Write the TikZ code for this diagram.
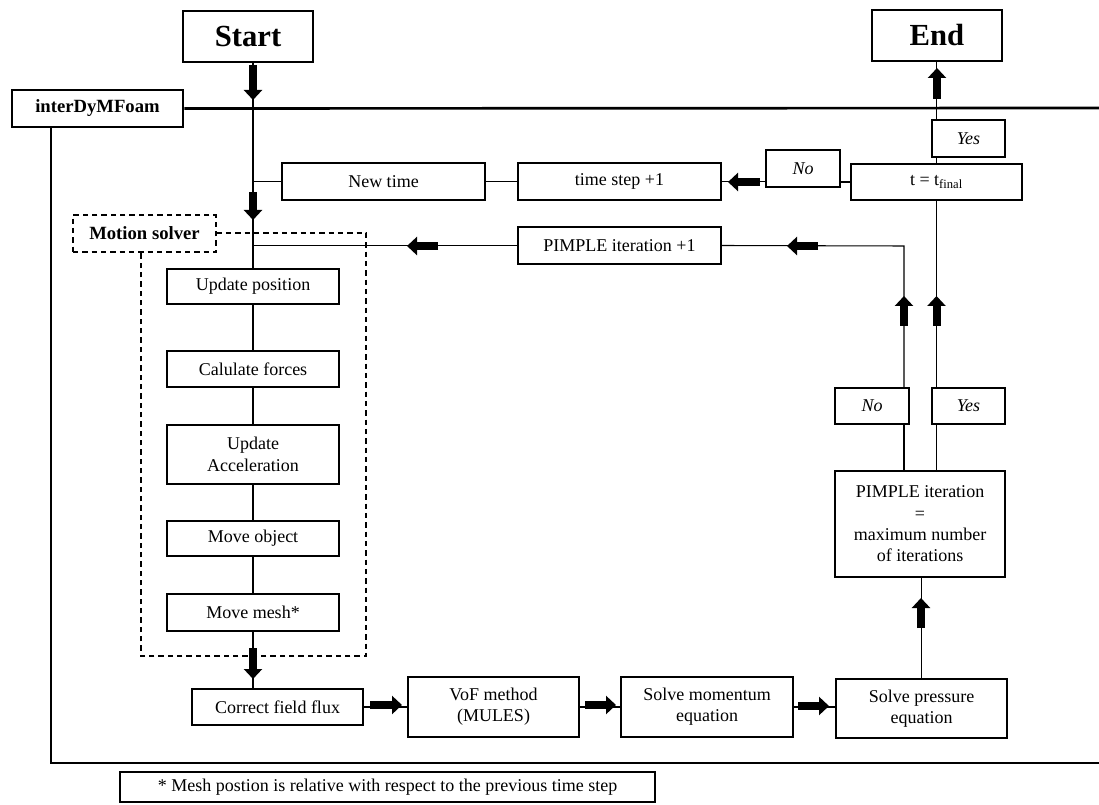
\documentclass[tikz,border=0pt]{standalone}
\usepackage{fontspec}
\setmainfont{Liberation Serif}
\usetikzlibrary{arrows.meta,calc}
\begin{document}
\begin{tikzpicture}[x=0.75pt,y=-0.75pt,
  bx/.style 2 args={draw, line width=0.8pt, fill=white, align=center, inner sep=1pt,
    minimum width={#1*0.75pt}, minimum height={#2*0.75pt},
    font=\fontsize{13.5}{16}\selectfont},
  bigbx/.style 2 args={bx={#1}{#2}, font=\fontsize{23}{26}\selectfont\bfseries},
  conn/.style={line width=0.8pt},
  frame/.style={line width=2pt},
  blk/.style={line width=6pt, -{Triangle[length=7.5pt,width=13.5pt]}},
  dsh/.style={line width=0.8pt, dash pattern=on 4pt off 3pt}
]
\useasboundingbox (0,0) rectangle (1099,805);

% nodes
\node[bigbx={130}{51}] (start) at (248,36.5) {Start};
\node[bigbx={130}{51}] (end) at (937,35.5) {End};
\node[bx={171}{37}, line width=2pt, font=\fontsize{14}{16}\selectfont\bfseries] (idm) at (97.5,108.5) {interDyMFoam};
\node[bx={203}{37}] (newtime) at (383.5,181.5) {New time};
\node[bx={203}{37}] (tstep) at (619.5,181.5) {time step +1};
\node[bx={74}{37}, font=\fontsize{13.5}{16}\selectfont\itshape] (no1) at (803,168.5) {No};
\node[bx={171}{36}] (tfin) at (936.5,182) {t = t\textsubscript{final}};
\node[bx={203}{37}] (pimple1) at (619.5,245.5) {PIMPLE iteration +1};
\node[bx={143}{37}, dsh, font=\fontsize{14}{16}\selectfont\bfseries] (motion) at (144.5,233.5) {Motion solver};
\node[bx={172}{35}] (updpos) at (253,286.5) {Update position};
\node[bx={172}{36}] (calc) at (253,369) {Calulate forces};
\node[bx={172}{59}] (updacc) at (253,454.5) {Update\\Acceleration};
\node[bx={172}{35}] (moveobj) at (253,538.5) {Move object};
\node[bx={172}{37}] (movemesh) at (253,612.5) {Move mesh*};
\node[bx={171}{36}] (cff) at (277.5,707) {Correct field flux};
\node[bx={171}{60}] (vof) at (493.5,707) {VoF method\\(MULES)};
\node[bx={172}{60}] (mom) at (707,707) {Solve momentum\\equation};
\node[bx={171}{59}] (pres) at (921.5,708.5) {Solve pressure\\equation};
\node[bx={170}{106}] (pmax) at (920,524) {PIMPLE iteration\\=\\maximum number\\of iterations};
\node[bx={74}{36}, font=\fontsize{13.5}{16}\selectfont\itshape] (no2) at (872,406) {No};
\node[bx={73}{36}, font=\fontsize{13.5}{16}\selectfont\itshape] (yes2) at (968.5,406) {Yes};
\node[bx={535}{30}] (foot) at (387.5,787) {* Mesh postion is relative with respect to the previous time step};

% outer frame
\draw[frame] (idm.east) -- (1099,108);
\draw[frame] (51,127) -- (51,763) -- (1099,763);

% dashed motion solver region
\draw[dsh] (motion.east |- 0,233) -- (366,233) -- (366,656) -- (141,656) -- (141,252);

% main vertical line
\draw[conn] (start.south -| updpos.north) -- (updpos.north);
\draw[conn] (updpos) -- (calc);
\draw[conn] (calc) -- (updacc);
\draw[conn] (updacc) -- (moveobj);
\draw[conn] (moveobj) -- (movemesh);
\draw[conn] (movemesh.south) -- (movemesh.south |- cff.north);

% time loop
\draw[conn] (newtime.west) -- (newtime.west -| updpos.north);
\draw[conn] (tstep.west) -- (newtime.east);
\draw[conn] (no1.west |- tstep.east) -- (tstep.east);
\draw[conn] (tfin.west) -- (tfin.west -| no1.east);
\draw[conn] (tfin.north) -- (tfin.north |- end.south);
\node[bx={73}{37}, font=\fontsize{13.5}{16}\selectfont\itshape] (yes1) at (968.5,138.5) {Yes};

% pimple loop
\coordinate (c1) at (904,246);
\draw[conn] (pimple1.west) -- (pimple1.west -| updpos.north);
\draw[conn] (no2.north -| c1) -- (c1) -- (pimple1.east);
\draw[conn] (no2.south -| c1) -- (pmax.north -| c1);
\draw[conn] (tfin.south) -- (tfin.south |- yes2.north);
\draw[conn] (yes2.south -| tfin.south) -- (pmax.north -| tfin.south);
\draw[conn] (pres.north) -- (pres.north |- pmax.south);

% bottom row
\draw[conn] (cff) -- (vof);
\draw[conn] (vof) -- (mom);
\draw[conn] (mom) -- (pres.west |- mom.east);

% block arrows
\draw[blk] (253,65) -- (253,100);
\draw[blk] (253,192) -- (253,220);
\draw[blk] (253,648) -- (253,679);
\draw[blk] (937,99) -- (937,68);
\draw[blk] (760,182) -- (728,182);
\draw[blk] (438,246) -- (407,246);
\draw[blk] (818,246) -- (787,246);
\draw[blk] (904,326) -- (904,296);
\draw[blk] (936.5,326) -- (936.5,296);
\draw[blk] (921,628) -- (921,598);
\draw[blk] (370,705) -- (402,705);
\draw[blk] (585,705) -- (616,705);
\draw[blk] (798,706) -- (829,706);
\end{tikzpicture}
\end{document}
